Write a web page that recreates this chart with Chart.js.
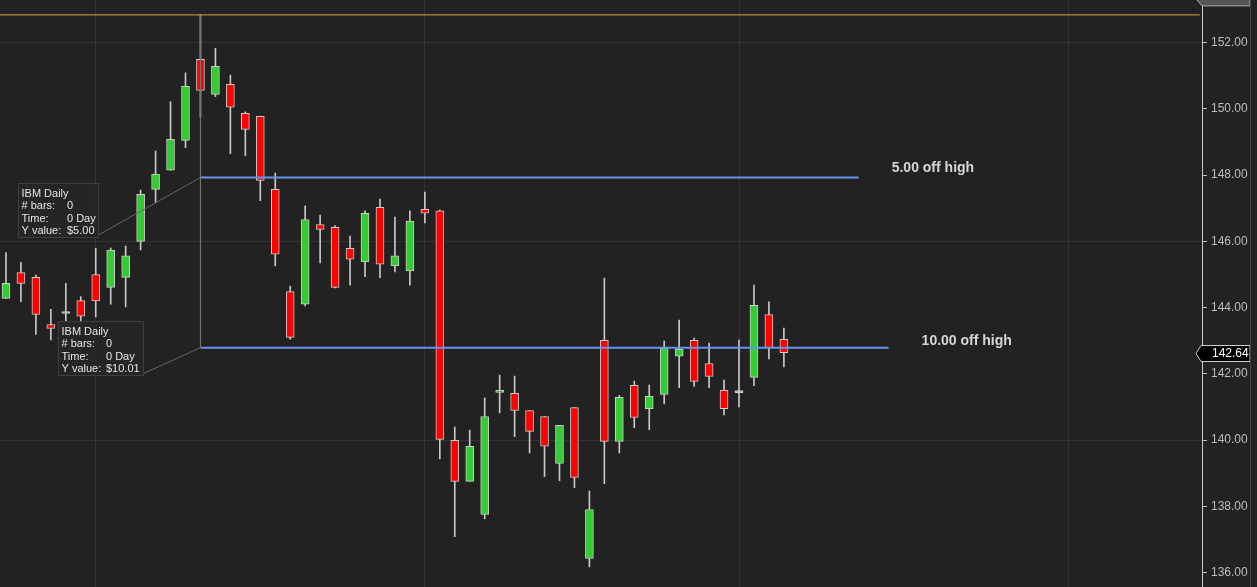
<!DOCTYPE html>
<html>
<head>
<meta charset="utf-8">
<script src="https://cdn.jsdelivr.net/npm/chart.js@4.4.1/dist/chart.umd.min.js"></script>
<style>
  html, body { margin: 0; padding: 0; background: #222222; overflow: hidden; }
  #wrap { width: 1257px; height: 587px; position: relative; }
</style>
</head>
<body>
<div id="wrap"><canvas id="chart"></canvas></div>
<script>
// IBM daily candles
var opens  = [144.28,145.06,144.91,143.49,143.82,144.21,145.00,144.61,144.91,146.00,
              147.57,148.15,149.05,151.50,150.44,150.74,149.87,149.78,147.57,144.48,
              144.10,146.51,146.42,145.79,145.38,147.03,145.26,145.11,146.97,146.92,
              139.99,138.75,137.75,141.44,141.41,140.89,140.71,139.29,140.98,136.42,
              143.01,139.96,141.65,140.95,141.38,142.53,143.01,142.31,141.50,141.43,
              141.89,143.79,143.04];
var highs  = [145.66,145.37,144.98,143.95,144.73,144.33,145.79,145.80,145.86,147.55,
              148.73,150.22,151.09,152.84,151.83,151.02,149.91,149.78,148.06,144.65,
              147.07,146.79,146.48,146.16,146.92,147.28,146.73,146.92,147.49,146.95,
              140.39,140.30,141.27,141.96,141.93,140.89,140.71,140.44,140.98,138.46,
              144.89,141.35,141.78,141.66,142.99,143.62,143.08,142.93,141.81,143.02,
              144.68,144.17,143.38];
var lows   = [144.28,144.18,143.19,143.02,143.57,143.52,143.72,144.10,144.02,145.74,
              147.17,148.15,148.83,149.76,150.37,148.65,148.59,147.23,145.26,143.04,
              144.05,145.35,144.59,144.68,144.93,144.90,145.08,144.68,146.56,139.43,
              137.08,138.75,137.62,140.82,140.10,139.61,138.89,138.77,138.56,136.17,
              138.68,139.61,140.37,140.31,141.09,141.58,141.62,141.58,140.76,141.00,
              141.64,142.45,142.21];
var closes = [144.73,144.73,143.79,143.37,143.82,143.74,144.20,145.74,145.56,147.42,
              148.03,149.08,150.68,150.56,151.29,150.05,149.38,147.84,145.61,143.10,
              146.66,146.36,144.61,145.46,146.85,145.31,145.56,146.61,146.85,140.02,
              138.75,139.81,140.71,141.50,140.89,140.26,139.81,140.44,138.87,137.90,
              139.96,141.29,140.68,141.32,142.77,142.75,141.77,141.92,140.95,141.43,
              144.07,142.78,142.64];

var yTicks = [136, 138, 140, 142, 144, 146, 148, 150, 152];
var monthStarts = [6, 28, 49, 71];

var highBar = 13;
var highValue = 152.84;
var offLevels = [147.93, 142.79];
var offEnds = [57, 59];
var offNames = ['5.00 off high', '10.00 off high'];
var offValues = ['$5.00', '$10.01'];
var lastPrice = 142.64;

var wickData = opens.map(function (o, i) { return { x: i, y: [lows[i], highs[i]] }; });
var bodyData = opens.map(function (o, i) { return { x: i, y: [o, closes[i]] }; });

function bodyColor(c) {
  var i = c.dataIndex;
  if (closes[i] > opens[i]) return '#33cc33';
  if (closes[i] < opens[i]) return '#ff0000';
  return '#cccccc';
}

var datasets = [
  {
    type: 'line',
    data: [{ x: -0.4, y: highValue }, { x: 79.8, y: highValue }],
    borderColor: '#d9a441', borderWidth: 1, pointRadius: 0, order: 0
  },
  {
    type: 'line',
    data: [{ x: highBar, y: highValue }, { x: highBar, y: offLevels[1] }],
    borderColor: '#777777', borderWidth: 1, pointRadius: 0, order: 0
  },
  {
    type: 'line',
    data: [{ x: highBar, y: offLevels[0] }, { x: offEnds[0], y: offLevels[0] }],
    borderColor: '#6495ed', borderWidth: 2, pointRadius: 0, order: 0
  },
  {
    type: 'line',
    data: [{ x: highBar, y: offLevels[1] }, { x: offEnds[1], y: offLevels[1] }],
    borderColor: '#6495ed', borderWidth: 2, pointRadius: 0, order: 0
  },
  {
    type: 'bar',
    data: bodyData,
    backgroundColor: bodyColor,
    borderColor: '#cccccc',
    borderWidth: 1,
    borderSkipped: false,
    barThickness: 8,
    minBarLength: 2,
    grouped: false,
    order: 1
  },
  {
    type: 'bar',
    data: wickData,
    backgroundColor: '#c8c8c8',
    borderWidth: 0,
    barThickness: 1,
    grouped: false,
    order: 2
  }
];

// background, info boxes, labels and price tags
var overlay = {
  id: 'overlay',
  beforeDraw: function (chart) {
    var c = chart.ctx;
    c.save();
    c.fillStyle = '#222222';
    c.fillRect(0, 0, chart.width, chart.height);
    c.restore();
  },
  afterDraw: function (chart) {
    var c = chart.ctx;
    var xs = chart.scales.x, ys = chart.scales.y;
    var ax = xs.getPixelForValue(highBar);
    c.save();

    // connector lines and boxes
    var boxes = [
      { x: 18.5, y: 183.5, w: 80, h: 54, vx: 67, ex: 98.5, ey: 235 },
      { x: 58.5, y: 321.5, w: 85, h: 54, vx: 106, ex: 143.5, ey: 373.5 }
    ];
    boxes.forEach(function (b, k) {
      var ay = ys.getPixelForValue(offLevels[k]);
      c.strokeStyle = '#666666';
      c.lineWidth = 1;
      c.beginPath();
      c.moveTo(b.ex, b.ey);
      c.lineTo(ax, ay);
      c.stroke();

      c.fillStyle = 'rgba(38,38,38,0.9)';
      c.fillRect(b.x, b.y, b.w, b.h);
      c.strokeStyle = '#3e3e3e';
      c.strokeRect(b.x, b.y, b.w, b.h);

      c.fillStyle = '#e6e6e6';
      c.font = '11px "Liberation Sans", Arial, sans-serif';
      c.textBaseline = 'middle';
      c.textAlign = 'left';
      var rows = [['IBM Daily', ''], ['# bars:', '0'], ['Time:', '0 Day'], ['Y value:', offValues[k]]];
      rows.forEach(function (r, j) {
        var ty = b.y + 10 + j * 12.5;
        c.fillText(r[0], b.x + 3, ty);
        if (r[1]) c.fillText(r[1], b.vx, ty);
      });
    });

    // line names
    c.font = 'bold 14px "Liberation Sans", Arial, sans-serif';
    c.fillStyle = '#d6d6d6';
    c.textBaseline = 'middle';
    c.textAlign = 'left';
    offLevels.forEach(function (lv, k) {
      var ex = xs.getPixelForValue(offEnds[k]);
      var ey = ys.getPixelForValue(lv);
      c.fillText(offNames[k], ex + 33, ey - (k === 0 ? 9 : 6));
    });

    var right = chart.width - 7;
    var axisX = chart.chartArea.right;

    // top (high) tag, mostly cut off
    var hb = ys.getPixelForValue(highValue) - 9;
    c.beginPath();
    c.moveTo(axisX - 5, hb - 6);
    c.lineTo(axisX, hb);
    c.lineTo(right, hb);
    c.lineTo(right, hb - 22);
    c.lineTo(axisX - 5, hb - 22);
    c.closePath();
    c.fillStyle = '#555555';
    c.fill();
    c.strokeStyle = '#aaaaaa';
    c.stroke();
    c.fillStyle = '#ffffff';
    c.font = '12px "Liberation Sans", Arial, sans-serif';
    c.fillText(highValue.toFixed(2), axisX + 10, hb - 9);

    // last price tag
    var py = Math.round(ys.getPixelForValue(lastPrice)) + 0.5;
    c.beginPath();
    c.moveTo(axisX - 6, py);
    c.lineTo(axisX - 1, py - 8);
    c.lineTo(right, py - 8);
    c.lineTo(right, py + 8);
    c.lineTo(axisX - 1, py + 8);
    c.closePath();
    c.fillStyle = '#000000';
    c.fill();
    c.strokeStyle = '#cccccc';
    c.stroke();
    c.fillStyle = '#ffffff';
    c.font = '12px "Liberation Sans", Arial, sans-serif';
    c.fillText(lastPrice.toFixed(2), axisX + 10, py);

    // right frame line
    c.strokeStyle = '#444444';
    c.beginPath();
    c.moveTo(right + 0.5, 0);
    c.lineTo(right + 0.5, chart.height);
    c.stroke();

    c.restore();
  }
};

new Chart(document.getElementById('chart'), {
  data: { datasets: datasets },
  plugins: [overlay],
  options: {
    responsive: true,
    maintainAspectRatio: false,
    animation: false,
    layout: { padding: 0 },
    plugins: {
      legend: { display: false },
      tooltip: { enabled: false }
    },
    scales: {
      x: {
        type: 'linear',
        offset: false,
        min: -0.4,
        max: 79.95,
        ticks: { display: false },
        border: { display: false },
        grid: { color: '#333333', drawTicks: false, offset: false },
        afterBuildTicks: function (scale) {
          scale.ticks = monthStarts.map(function (v) { return { value: v }; });
        },
        afterFit: function (scale) {
          scale.height = 0;
          scale.paddingLeft = 0;
          scale.paddingRight = 0;
        }
      },
      y: {
        type: 'linear',
        position: 'right',
        min: 135.56,
        max: 153.29,
        afterBuildTicks: function (scale) {
          scale.ticks = yTicks.map(function (v) { return { value: v }; });
        },
        afterFit: function (scale) {
          scale.width = 55;
          scale.paddingTop = 0;
          scale.paddingBottom = 0;
        },
        border: { color: '#cccccc', width: 1 },
        grid: {
          color: function (c) {
            return (c.tick && c.tick.value % 6 === 2) ? '#333333' : 'rgba(0,0,0,0)';
          },
          tickColor: '#bbbbbb',
          tickLength: 5
        },
        ticks: {
          color: '#bdbdbd',
          padding: 4,
          font: { family: '"Liberation Sans", Arial, sans-serif', size: 12 },
          callback: function (v) { return Number(v).toFixed(2); }
        }
      }
    }
  }
});
</script>
</body>
</html>
